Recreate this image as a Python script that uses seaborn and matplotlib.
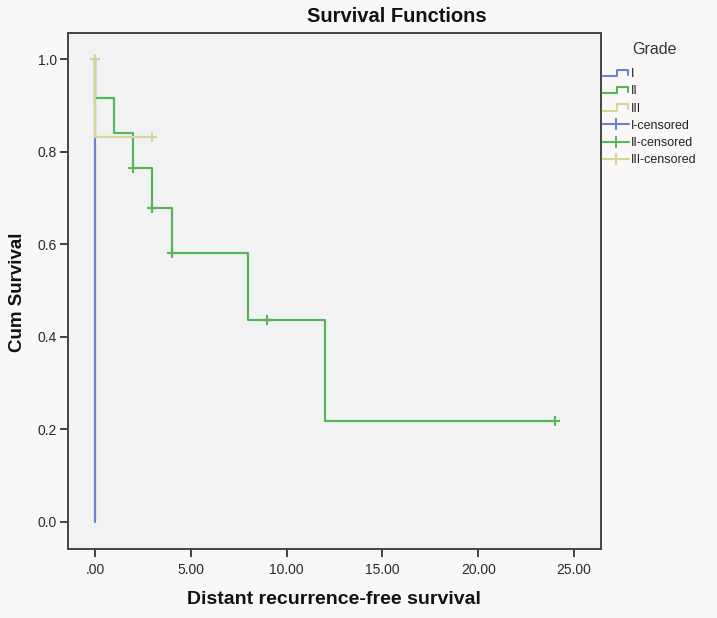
import numpy as np
import pandas as pd
import matplotlib
matplotlib.use('Agg')
import matplotlib.pyplot as plt
import seaborn as sns
from matplotlib.lines import Line2D
from matplotlib.legend_handler import HandlerBase
from matplotlib.ticker import FuncFormatter

# ---- data ----
grades = ['I', 'II', 'III']
grade_colors = ['#6a84d2', '#55b55a', '#d6d39b']

time_i = [0, 0]
surv_i = [1.0, 0.0]
time_ii = [0, 0, 1, 2, 3, 4, 8, 12, 24]
surv_ii = [1.0, 0.917, 0.840, 0.764, 0.679, 0.582, 0.437, 0.218, 0.218]
time_iii = [0, 0, 3]
surv_iii = [1.0, 0.833, 0.833]

cens_time_i = []
cens_surv_i = []
cens_time_ii = [0, 2, 3, 4, 9, 24]
cens_surv_ii = [1.0, 0.764, 0.679, 0.582, 0.437, 0.218]
cens_time_iii = [0, 3]
cens_surv_iii = [1.0, 0.833]

x_ticks = [0, 5, 10, 15, 20, 25]
y_ticks = [0.0, 0.2, 0.4, 0.6, 0.8, 1.0]

curves = [(time_i, surv_i), (time_ii, surv_ii), (time_iii, surv_iii)]
censored = [(cens_time_i, cens_surv_i), (cens_time_ii, cens_surv_ii), (cens_time_iii, cens_surv_iii)]


class StepHandler(HandlerBase):
    # SPSS style little step icon for the survival lines
    def create_artists(self, legend, orig_handle, xdescent, ydescent, width, height, fontsize, trans):
        xs = np.array([0.0, 0.55, 0.55, 0.95, 0.95]) * width - xdescent
        ys = np.array([0.1, 0.1, 0.85, 0.85, 0.25]) * height - ydescent
        line = Line2D(xs, ys, color=orig_handle.get_color(), lw=orig_handle.get_linewidth(), transform=trans)
        return [line]


sns.set_theme(style='white')
plt.rcParams['font.family'] = ['Liberation Sans', 'DejaVu Sans']

fig = plt.figure(figsize=(7.17, 6.18), dpi=100, facecolor='#f9f8f6')
ax = fig.add_axes([68 / 717, 1 - 549 / 618, (601 - 68) / 717, (549 - 33) / 618])
ax.set_facecolor('#f2f2f2')

for (t, s), col in zip(curves, grade_colors):
    df = pd.DataFrame({'time': t, 'surv': s})
    sns.lineplot(data=df, x='time', y='surv', estimator=None, sort=False,
                 drawstyle='steps-post', color=col, lw=1.6, ax=ax)

for (t, s), col in zip(censored, grade_colors):
    if len(t) == 0:
        continue
    df = pd.DataFrame({'time': t, 'surv': s})
    sns.scatterplot(data=df, x='time', y='surv', marker='+', s=60, color=col,
                    linewidth=1.5, ax=ax, zorder=3)

ax.set_xlim(-1.41, 26.41)
ax.set_ylim(-0.059, 1.057)
ax.set_xticks(x_ticks)
ax.set_yticks(y_ticks)
ax.xaxis.set_major_formatter(FuncFormatter(lambda v, p: ('%.2f' % v).lstrip('0') if v == 0 else '%.2f' % v))
ax.yaxis.set_major_formatter(FuncFormatter(lambda v, p: '%.1f' % v))
ax.tick_params(axis='both', which='major', direction='out', length=6, width=1.3,
               color='#333333', labelsize=10, labelcolor='#2a2a2a', bottom=True, left=True)
ax.tick_params(axis='x', pad=4)
ax.tick_params(axis='y', pad=2)
for sp in ax.spines.values():
    sp.set_color('#444444')
    sp.set_linewidth(1.4)
ax.set_xlabel('')
ax.set_ylabel('')

fig.text(397 / 717, 1 - 17 / 618, 'Survival Functions', ha='center', va='center',
         fontsize=14.5, fontweight='bold', color='#111111')
fig.text(334 / 717, 1 - 599 / 618, 'Distant recurrence-free survival', ha='center', va='center',
         fontsize=14, fontweight='bold', color='#111111')
fig.text(18 / 717, 1 - 292 / 618, 'Cum Survival', ha='center', va='center', rotation=90,
         fontsize=13.5, fontweight='bold', color='#111111')
fig.text(632 / 717, 1 - 50 / 618, 'Grade', ha='left', va='center', fontsize=11.5, color='#333333')

handles = []
labels = []
for g, col in zip(grades, grade_colors):
    handles.append(Line2D([], [], color=col, lw=1.5))
    labels.append(g)
cens_handles = []
for g, col in zip(grades, grade_colors):
    cens_handles.append(Line2D([], [], color=col, lw=1.5, marker='+', markersize=8, markeredgewidth=1.4))
    labels.append(g + '-censored')
handler_map = {h: StepHandler() for h in handles}
leg = fig.legend(handles + cens_handles, labels, handler_map=handler_map,
                 loc='upper left', bbox_to_anchor=(603 / 717, 1 - 68 / 618),
                 frameon=False, fontsize=9, handlelength=2.1, handletextpad=0.1,
                 labelspacing=0.42, borderpad=0, borderaxespad=0)
for txt in leg.get_texts():
    txt.set_color('#222222')

plt.savefig('out.png', dpi=100, facecolor=fig.get_facecolor())
plt.close()
